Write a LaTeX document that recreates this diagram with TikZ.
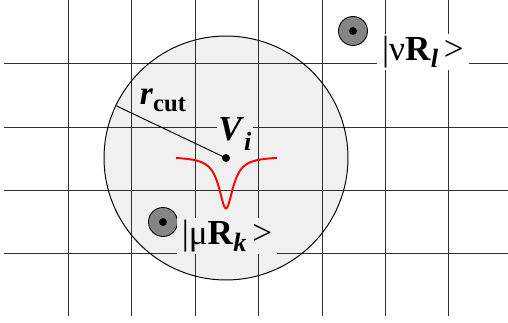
\documentclass[tikz,border=0pt]{standalone}
\usepackage{fontspec}
\setmainfont{Liberation Serif}
\usetikzlibrary{calc}
\definecolor{cutfill}{HTML}{F0F0F0}
\definecolor{atomgray}{HTML}{858585}
\definecolor{gridline}{HTML}{303030}
\definecolor{wellred}{HTML}{FF0000}

\begin{document}
\begin{tikzpicture}[x=0.02cm, y=-0.02cm,
    gridln/.style={draw=gridline, line width=0.5pt},
    atom/.style={circle, draw=black, line width=0.5pt, fill=atomgray, minimum size=0.58cm, inner sep=0pt},
    core/.style={circle, fill=black, minimum size=0.16cm, inner sep=0pt},
    ketlabel/.style={inner xsep=3pt, inner ysep=1pt, font=\fontsize{20}{22}\selectfont}
]
\useasboundingbox (0,0) rectangle (508,322);
% ---- cutoff sphere ----
\fill[cutfill] (226,158) circle (2.44cm);
% ---- grid ----
\foreach \gx in {68,131,195,258,322,385,448}
    \draw[gridln] (\gx,0) -- (\gx,316);
\foreach \gy in {63,127,190,253}
    \draw[gridln] (4,\gy) -- (508,\gy);
\draw[line width=0.55pt] (226,158) circle (2.44cm);

% ---- centre and radius ----
\node[core] (vi) at (226,158) {};
\coordinate (rim) at (116.7,106);
\draw[line width=0.55pt] (vi.center) -- (rim);
\node[font=\fontsize{19}{21}\selectfont, inner sep=0pt] (rcut) at (163,100)
    {\textbf{\textit{r}}\raisebox{-0.45ex}{\fontsize{14}{16}\selectfont\textbf{cut}}};
\node[ketlabel, fill=cutfill, inner xsep=1pt] (vlab) at (235,134)
    {\textbf{\textit{V}}\raisebox{-0.6ex}{\fontsize{15}{17}\selectfont\textbf{\textit{i}}}};

% ---- potential well ----
\draw[wellred, line width=1.1pt, domain=-50:51, samples=90, smooth]
    plot ({\x+226}, {156.5+52/(1+(\x/8.6)^2)});

% ---- orbitals ----
\node[atom] (amu) at (163,222) {};
\node[core] at (amu) {};
\node[atom] (anu) at (353,31) {};
\node[core] at (anu) {};
\node[ketlabel, fill=cutfill] (kmu) at (227,236)
    {|μ\textbf{R}\raisebox{-0.45ex}{\fontsize{15}{17}\selectfont\textbf{\textit{k}}}\,>};
\node[ketlabel, fill=white] (knu) at (423,52)
    {|ν\textbf{R}\raisebox{-0.45ex}{\fontsize{15}{17}\selectfont\textbf{\textit{l}}}\,>};
\end{tikzpicture}
\end{document}
